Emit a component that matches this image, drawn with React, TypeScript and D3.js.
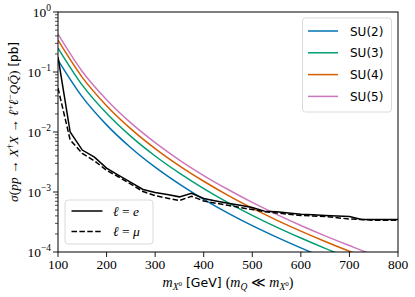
import React from "react";
import * as d3 from "d3";

const masses = [100, 150, 200, 250, 300, 350, 400, 450, 500, 550, 600, 650, 700, 750, 800];
const su2 = [0.158, 0.0385, 0.01315, 0.00547, 0.00259, 0.00135, 7.55e-4, 4.46e-4, 2.75e-4, 1.77e-4, 1.17e-4, 7.9e-5, 5.5e-5];
const su3 = [0.251, 0.0605, 0.0205, 0.00845, 0.00398, 0.00206, 0.00114, 6.67e-4, 4.09e-4, 2.6e-4, 1.71e-4, 1.15e-4, 7.9e-5];
const su4 = [0.339, 0.0815, 0.0275, 0.0113, 0.0053, 0.00273, 0.00151, 8.79e-4, 5.37e-4, 3.4e-4, 2.23e-4, 1.5e-4, 1.03e-4, 7.2e-5];
const su5 = [0.427, 0.102, 0.0345, 0.01416, 0.00664, 0.00341, 0.00188, 0.0011, 6.7e-4, 4.24e-4, 2.77e-4, 1.86e-4, 1.28e-4, 8.9e-5, 6.4e-5];

const leptonMasses = [100, 125, 150, 175, 200, 225, 250, 275, 300, 325, 350, 375, 400, 425, 450, 475, 500, 525, 550, 575, 600, 625, 650, 675, 700, 725, 750, 775, 800];
const electron = [0.178, 0.0100, 0.0050, 0.0038, 0.0025, 0.0019, 0.00145, 0.0011, 0.00098, 0.00091, 0.00083, 0.00095, 0.00078, 0.00071, 0.00065, 0.0006, 0.00055, 0.00048, 0.00047, 0.000447, 0.000427, 0.000417, 0.000407, 0.000398, 0.000389, 0.000347, 0.000347, 0.000347, 0.000347];
const muon = [0.054, 0.0074, 0.0044, 0.0033, 0.0023, 0.00178, 0.00135, 0.00102, 0.00087, 0.00079, 0.00072, 0.00085, 0.00071, 0.00065, 0.0006, 0.00055, 0.00051, 0.00047, 0.000447, 0.000427, 0.000407, 0.000398, 0.000389, 0.000372, 0.000355, 0.000347, 0.000339, 0.000339, 0.000339];

const suNames = ["SU(2)", "SU(3)", "SU(4)", "SU(5)"];
const suColors = ["#0173b2", "#029e73", "#d55e00", "#cc78bc"];
const xTicks = [100, 200, 300, 400, 500, 600, 700, 800];
const yExps = [0, -1, -2, -3, -4];

const L = 58, R = 398, T = 12, B = 252;
const serif = "'Liberation Serif', 'DejaVu Serif', serif";
const sans = "'DejaVu Sans', sans-serif";

export default function App() {
  const x = d3.scaleLinear().domain([100, 800]).range([L, R]);
  const y = d3.scaleLog().domain([1e-4, 1]).range([B, T]);
  const suSeries = [su2, su3, su4, su5];

  const smooth = d3.line<[number, number]>().x(d => x(d[0])).y(d => y(d[1])).curve(d3.curveMonotoneX);
  const straight = d3.line<[number, number]>().x(d => x(d[0])).y(d => y(d[1]));

  const minor: number[] = [];
  for (let e = -4; e < 0; e++) for (let k = 2; k <= 9; k++) minor.push(k * Math.pow(10, e));

  return (
    <svg width={415} height={297} style={{ position: "absolute", left: 0, top: 0, background: "#fff" }}>
      <defs>
        <clipPath id="plot"><rect x={L} y={T} width={R - L} height={B - T} /></clipPath>
      </defs>
      <g clipPath="url(#plot)" fill="none">
        {suSeries.map((s, i) => (
          <path key={i} d={smooth(s.map((v, j) => [masses[j], v]) as [number, number][]) || ""} stroke={suColors[i]} strokeWidth={1.5} />
        ))}
        <path d={straight(electron.map((v, j) => [leptonMasses[j], v]) as [number, number][]) || ""} stroke="#000" strokeWidth={1.5} />
        <path d={straight(muon.map((v, j) => [leptonMasses[j], v]) as [number, number][]) || ""} stroke="#000" strokeWidth={1.5} strokeDasharray="5.5,2.4" />
      </g>
      <rect x={L} y={T} width={R - L} height={B - T} fill="none" stroke="#000" strokeWidth={1} />
      {xTicks.map(t => (
        <g key={t}>
          <line x1={x(t)} x2={x(t)} y1={B} y2={B + 5} stroke="#000" strokeWidth={0.9} />
          <text x={x(t)} y={B + 17} textAnchor="middle" fontFamily={serif} fontSize={13.5}>{t}</text>
        </g>
      ))}
      {minor.map((m, i) => (
        <line key={i} x1={L - 3} x2={L} y1={y(m)} y2={y(m)} stroke="#000" strokeWidth={0.7} />
      ))}
      {yExps.map(e => (
        <g key={e}>
          <line x1={L - 5} x2={L} y1={y(Math.pow(10, e))} y2={y(Math.pow(10, e))} stroke="#000" strokeWidth={0.9} />
          <text x={L - 7} y={y(Math.pow(10, e)) + 4.5} textAnchor="end" fontFamily={serif} fontSize={13.5}>
            10<tspan fontSize={9.5} dy={-5.5}>{e === 0 ? "0" : "\u2212" + Math.abs(e)}</tspan>
          </text>
        </g>
      ))}
      <text x={228} y={287} textAnchor="middle" fontFamily={serif} fontSize={14}>
        <tspan fontStyle="italic">m</tspan><tspan fontSize={9.5} dy={3} fontStyle="italic">X</tspan><tspan fontSize={7} dy={-4}>0</tspan>
        <tspan dy={1} fontFamily={sans} fontSize={12.5}> [GeV] </tspan>
        <tspan>(</tspan><tspan fontStyle="italic">m</tspan><tspan fontSize={9.5} dy={3} fontStyle="italic">Q</tspan>
        <tspan dy={-3}> ≪ </tspan><tspan fontStyle="italic">m</tspan><tspan fontSize={9.5} dy={3} fontStyle="italic">X</tspan><tspan fontSize={7} dy={-4}>0</tspan><tspan dy={1}>)</tspan>
      </text>
      <text transform="translate(18,122) rotate(-90)" textAnchor="middle" fontFamily={serif} fontSize={13.5}>
        <tspan fontStyle="italic">σ</tspan><tspan>(</tspan><tspan fontStyle="italic">pp</tspan><tspan> → </tspan>
        <tspan fontStyle="italic">X</tspan><tspan fontSize={9} dy={-5}>†</tspan><tspan dy={5} fontStyle="italic">X</tspan>
        <tspan> → </tspan><tspan fontStyle="italic">ℓ</tspan><tspan fontSize={9} dy={-5}>+</tspan>
        <tspan dy={5} fontStyle="italic">ℓ</tspan><tspan fontSize={9} dy={-5}>−</tspan>
        <tspan dy={5} fontStyle="italic">Q</tspan><tspan fontStyle="italic">Q̄</tspan><tspan>)</tspan>
        <tspan fontFamily={sans} fontSize={12}> [pb]</tspan>
      </text>
      <rect x={302.5} y={18} width={89} height={94} rx={3} fill="#fff" fillOpacity={0.8} stroke="#d0d0d0" strokeWidth={0.8} />
      {suNames.map((n, i) => (
        <g key={n}>
          <line x1={308} x2={338} y1={31 + i * 21.8} y2={31 + i * 21.8} stroke={suColors[i]} strokeWidth={1.5} />
          <text x={350} y={31 + i * 21.8 + 4.5} fontFamily={sans} fontSize={12}>{n}</text>
        </g>
      ))}
      <rect x={65} y={200} width={88} height={44} rx={3} fill="#fff" fillOpacity={0.8} stroke="#d0d0d0" strokeWidth={0.8} />
      <line x1={71.5} x2={102.5} y1={211} y2={211} stroke="#000" strokeWidth={1.5} />
      <line x1={71.5} x2={102.5} y1={231.5} y2={231.5} stroke="#000" strokeWidth={1.5} strokeDasharray="5.5,2.4" />
      <text x={113} y={215.5} fontFamily={serif} fontSize={13.5}><tspan fontStyle="italic">ℓ</tspan> = <tspan fontStyle="italic">e</tspan></text>
      <text x={113} y={236} fontFamily={serif} fontSize={13.5}><tspan fontStyle="italic">ℓ</tspan> = <tspan fontStyle="italic">μ</tspan></text>
    </svg>
  );
}
